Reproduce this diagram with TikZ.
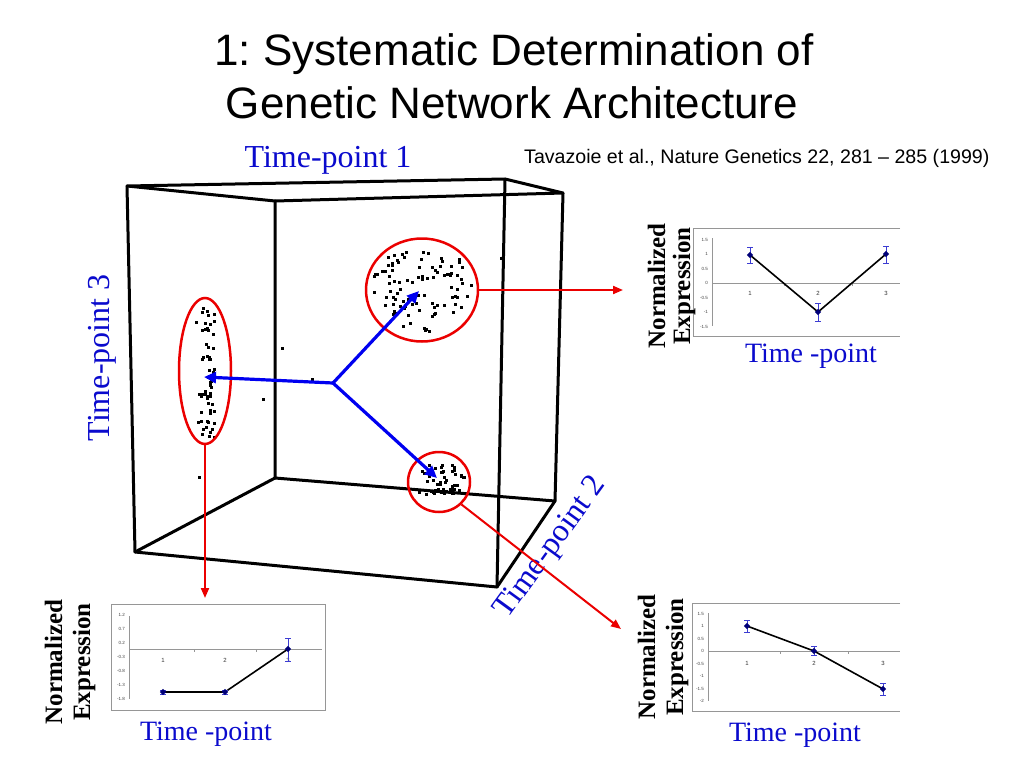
\documentclass[tikz,border=0pt]{standalone}
\usepackage{fontspec}
\setmainfont{Liberation Serif}
\newfontfamily\arialf{Liberation Sans}
\usetikzlibrary{arrows.meta,shapes.geometric}
\definecolor{tblue}{RGB}{10,10,205}
\definecolor{ablue}{RGB}{0,0,240}
\definecolor{tred}{RGB}{235,0,0}
\definecolor{navy}{RGB}{0,0,120}
\definecolor{ebar}{RGB}{60,60,210}
\definecolor{cgray}{RGB}{150,150,150}
\frenchspacing
\newcommand\mymk[2]{\fill[navy] (#1,#2) +(-3.2,0) -- +(0,-3.2) -- +(3.2,0) -- +(0,3.2) -- cycle;}
\newcommand\myebar[3]{\draw[errbar] (#1,#2) -- (#1,#3) (#1,#2) ++(-2.8,0) -- ++(5.6,0) (#1,#3) ++(-2.8,0) -- ++(5.6,0);}
\newcommand\mydot[2]{\fill ({#1-1.5},{#2-1.5}) rectangle ++(3,3);}
\begin{document}
\begin{tikzpicture}[x=1pt,y=-1pt,
  cube/.style={line width=3pt, line cap=round, line join=round},
  cluster/.style={draw=tred, line width=2.5pt, ellipse, inner sep=0pt},
  redarrow/.style={draw=tred, line width=2pt, -{Triangle[length=10pt,width=8pt]}},
  bluearrow/.style={draw=ablue, line width=3.2pt, -{Triangle[length=12pt,width=11pt]}},
  tp/.style={text=tblue, font=\fontsize{32}{36}\selectfont, inner sep=0pt, anchor=base},
  ylab/.style={font=\bfseries\fontsize{25}{28}\selectfont, rotate=90, anchor=base, inner sep=0pt},
  xlab/.style={text=tblue, font=\fontsize{28}{32}\selectfont, anchor=base, inner sep=0pt},
  ticklab/.style={font=\arialf\fontsize{4.5}{5}\selectfont, text=black!75, inner sep=0pt},
  catlab/.style={font=\arialf\fontsize{6}{7}\selectfont, text=black!80, inner sep=0pt},
  frame/.style={draw=cgray, line width=0.8pt},
  axisline/.style={draw=cgray, line width=0.6pt},
  dataline/.style={line width=1.6pt, black},
  errbar/.style={line width=1pt, ebar}
]
\fill[white] (0,0) rectangle (1024,768);
\useasboundingbox (0,0) rectangle (1024,768);

% ---------- title and labels ----------
\node[font=\arialf\fontsize{44}{50}\selectfont, anchor=base, inner sep=0pt] (t1) at (514,65) {1: Systematic Determination of};
\node[font=\arialf\fontsize{44}{50}\selectfont, anchor=base, inner sep=0pt] (t2) at (512,118) {Genetic Network Architecture};
\node[tp] (tp1) at (328,167) {Time-point 1};
\node[font=\arialf\fontsize{19.6}{24}\selectfont, anchor=base west, inner sep=0pt] (ref) at (524,163) {Tavazoie et al., Nature Genetics 22, 281 – 285 (1999)};
\node[tp, rotate=90] (tp3) at (109,358) {Time-point 3};
\node[tp, rotate=54] (tp2) at (557,552) {Time-point 2};

% ---------- cube ----------
\coordinate (FTL) at (127,186);
\coordinate (FTR) at (505,179);
\coordinate (BTL) at (275,201);
\coordinate (BTR) at (563,193);
\coordinate (FBL) at (135,552);
\coordinate (FBR) at (497,587);
\coordinate (BBL) at (275,478);
\coordinate (BBR) at (555,501);
\draw[cube] (FTL) -- (FTR) -- (BTR) -- (BTL) -- cycle;
\draw[cube] (BTL) -- (BBL) -- (BBR) -- (BTR);
\draw[cube] (FTL) -- (FBL) -- (FBR) -- (FTR);
\draw[cube] (FBL) -- (BBL);
\draw[cube] (FBR) -- (BBR);

% ---------- dots ----------
\pgfmathsetseed{4217}
\foreach \i in {1,...,95}{
  \pgfmathsetmacro\ang{360*rnd}
  \pgfmathsetmacro\rr{sqrt(rnd)}
  \pgfmathsetmacro\xx{422+50*\rr*cos(\ang)}
  \pgfmathsetmacro\yy{289+45*\rr*sin(\ang)}
  \mydot{\xx}{\yy}
}
\foreach \i in {1,...,65}{
  \pgfmathsetmacro\yy{308+132*rnd}
  \pgfmathsetmacro\xx{207+12*(rnd+rnd-1)}
  \mydot{\xx}{\yy}
}
\foreach \i in {1,...,34}{
  \pgfmathsetmacro\ang{360*rnd}
  \pgfmathsetmacro\rr{sqrt(rnd)}
  \pgfmathsetmacro\xx{440+25*\rr*cos(\ang)}
  \pgfmathsetmacro\yy{478+15*\rr*sin(\ang)}
  \mydot{\xx}{\yy}
}
\foreach \i in {1,...,18}{
  \pgfmathsetmacro\xx{418+42*rnd}
  \pgfmathsetmacro\yy{492+6*(rnd-0.5)}
  \mydot{\xx}{\yy}
}
\foreach \a/\b in {282/348,312/379,263/399,199/477,501/258}{
  \mydot{\a}{\b}
}

% ---------- clusters ----------
\node[cluster, minimum width=112pt, minimum height=103pt] (cTop) at (422,290) {};
\node[cluster, minimum width=52pt, minimum height=146pt] (cLeft) at (205,371) {};
\node[cluster, minimum width=62pt, minimum height=60pt] (cBot) at (439,482) {};

% ---------- arrows ----------
\coordinate (hub) at (333,383);
\coordinate (bL) at (204,377);
\coordinate (bT) at (419,291);
\coordinate (bB) at (437,478);
\draw[bluearrow] (hub) -- (bL);
\draw[bluearrow] (hub) -- (bT);
\draw[bluearrow] (hub) -- (bB);

\coordinate (rT) at (623,290);
\coordinate (rL) at (205,598);
\coordinate (rB) at (621,629);
\draw[redarrow] (cTop) -- (rT);
\draw[redarrow] (cLeft) -- (rL);
\draw[redarrow] (cBot.-45) -- (rB);

% ---------- chart: top right ----------
\draw[frame] (900,228) -- (693,228) -- (693,336) -- (900,336);
\draw[axisline] (712,238) -- (712,326);
\draw[axisline] (712,283) -- (900,283);
\foreach \x in {784,852} \draw[axisline] (\x,283) -- (\x,286);
\foreach \v [count=\k] in {1.5,1,0.5,0,-0.5,-1,-1.5}
  \node[ticklab, anchor=east] (trt\k) at (708,{283-29*\v}) {\v};
\foreach \x/\c in {750/1,818/2,886/3}
  \node[catlab] (trc\c) at (\x,293) {\c};
\draw[dataline] (750,255) -- (818,312) -- (886,254);
\myebar{750}{247}{263}
\myebar{818}{303}{321}
\myebar{886}{246}{263}
\mymk{750}{255}\mymk{818}{312}\mymk{886}{254}
\node[ylab] (trn) at (665,286) {Normalized};
\node[ylab] (tre) at (690,286) {Expression};
\node[xlab] (trx) at (811,362) {Time -point};

% ---------- chart: bottom left ----------
\draw[frame] (111,604) rectangle (325,710);
\draw[axisline] (129,616) -- (129,699);
\draw[axisline] (129,649) -- (322,649);
\foreach \x in {194,256} \draw[axisline] (\x,649) -- (\x,652);
\foreach \v [count=\k] in {1.2,0.7,0.2,-0.3,-0.8,-1.3,-1.8}
  \node[ticklab, anchor=east] (blt\k) at (125,{643.4-28*(\v-0.2)}) {\v};
\foreach \x/\c in {163/1,225/2,288/3}
  \node[catlab] (blc\c) at (\x,660) {\c};
\draw[dataline] (163,692) -- (225,692) -- (288,649);
\myebar{163}{690}{694}
\myebar{225}{690}{694}
\myebar{288}{638}{661}
\mymk{163}{692}\mymk{225}{692}\mymk{288}{649}
\node[ylab] (bln) at (62,662) {Normalized};
\node[ylab] (ble) at (90,662) {Expression};
\node[xlab] (blx) at (206,740) {Time -point};

% ---------- chart: bottom right ----------
\draw[frame] (900,603) -- (692,603) -- (692,711) -- (900,711);
\draw[axisline] (708,613) -- (708,701);
\draw[axisline] (708,651) -- (900,651);
\foreach \x in {780,848} \draw[axisline] (\x,651) -- (\x,654);
\foreach \v [count=\k] in {1.5,1,0.5,0,-0.5,-1,-1.5,-2}
  \node[ticklab, anchor=east] (brt\k) at (704,{651-25*\v}) {\v};
\foreach \x/\c in {747/1,814/2,883/3}
  \node[catlab] (brc\c) at (\x,663) {\c};
\draw[dataline] (747,626) -- (814,651) -- (883,689);
\myebar{747}{620}{632}
\myebar{814}{646.5}{655.5}
\myebar{883}{683}{695}
\mymk{747}{626}\mymk{814}{651}\mymk{883}{689}
\node[ylab] (brn) at (655,657) {Normalized};
\node[ylab] (bre) at (683,657) {Expression};
\node[xlab] (brx) at (795,741) {Time -point};
\end{tikzpicture}
\end{document}
